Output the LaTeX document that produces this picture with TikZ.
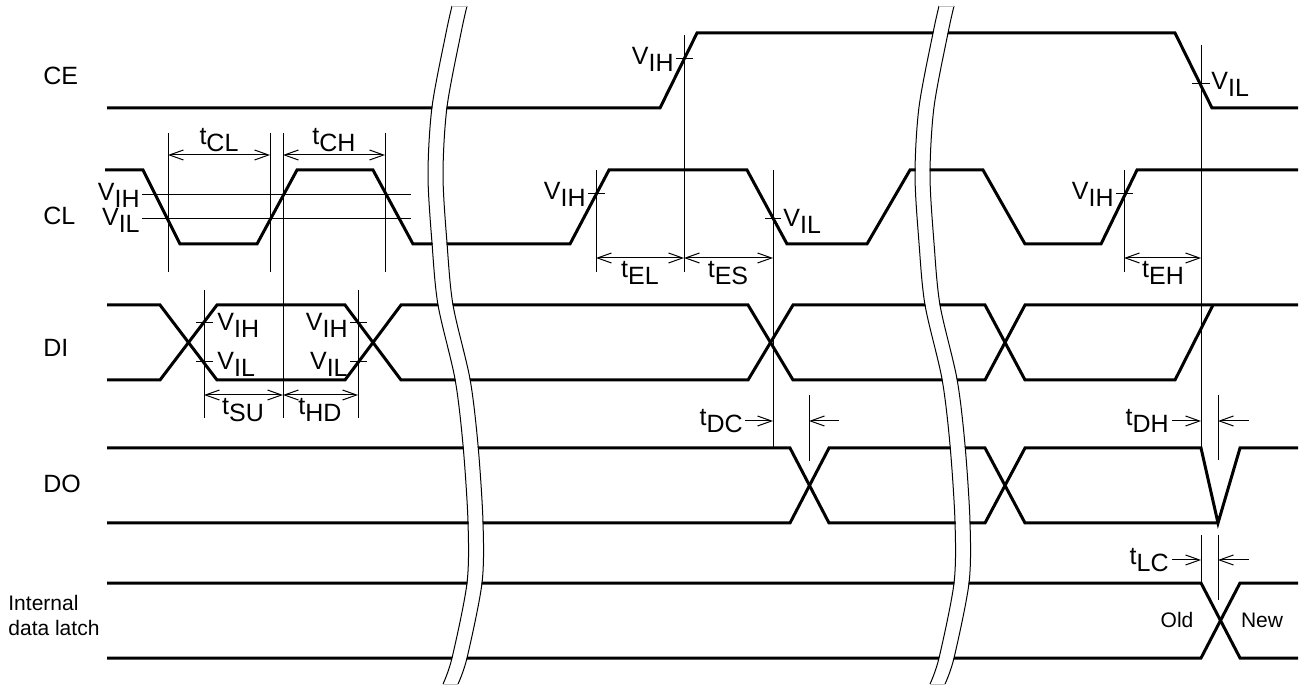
\documentclass[tikz,border=0pt]{standalone}
\usepackage{fontspec}
\setmainfont{Liberation Sans}
\usetikzlibrary{arrows.meta}
\newcommand\tsub[2]{#1\raisebox{-.25em}{#2}}
\tikzset{
wave/.style={line width=1.5pt},
guide/.style={line width=.5pt},
dim/.style={line width=.5pt,{Straight Barb[length=7pt,width=5pt]}-{Straight Barb[length=7pt,width=5pt]}},
ptr/.style={line width=.5pt,-{Straight Barb[length=7pt,width=5pt]}},
signame/.style={font=\fontsize{12.5}{14}\selectfont,anchor=base west,inner sep=0pt},
lev/.style={font=\fontsize{12.5}{14}\selectfont,inner sep=0pt},
note/.style={font=\fontsize{10.5}{12.5}\selectfont,inner sep=0pt},
bandfill/.style={white,line width=7pt},
bandedge/.style={line width=.5pt}
}
\begin{document}
\begin{tikzpicture}[x=.5pt,y=-.5pt]
\useasboundingbox (0,0) rectangle (1310,688);
% signal names
\node[signame] (ce) at (43,85) {CE};
\node[signame] (cl) at (43,225) {CL};
\node[signame] (di) at (43,357) {DI};
\node[signame] (do) at (43,493) {DO};
\node[note,anchor=west,align=left] (latch) at (8,615) {Internal\\data latch};
% waveforms
\draw[wave] (107,108) -- (660,108) -- (697,33) -- (1175,33) -- (1212,108) -- (1298,108);
\draw[wave] (105,170) -- (143,170) -- (180,244) -- (257,244) -- (297,170) -- (373,170) -- (413,244)
  -- (570,244) -- (609,170) -- (747,170) -- (787,244) -- (867,244) -- (910,170) -- (983,170)
  -- (1025,244) -- (1101,244) -- (1137,170) -- (1298,170);
\draw[wave] (107,305) -- (160,305) -- (217,380) -- (345,380) -- (401,305) -- (748,305) -- (793,380)
  -- (985,380) -- (1025,305) -- (1298,305);
\draw[wave] (107,380) -- (160,380) -- (217,305) -- (345,305) -- (401,380) -- (748,380) -- (793,305)
  -- (985,305) -- (1025,380) -- (1175,380) -- (1213,305);
\draw[wave] (107,448) -- (790,448) -- (829,523) -- (985,523) -- (1025,448) -- (1201,448) -- (1218,523)
  -- (1240,448) -- (1298,448);
\draw[wave] (107,523) -- (790,523) -- (829,448) -- (985,448) -- (1025,523) -- (1218,523);
\draw[wave] (107,583) -- (1201,583) -- (1240,658) -- (1298,658);
\draw[wave] (107,658) -- (1201,658) -- (1240,583) -- (1298,583);
% CL levels, tCL / tCH
\draw[guide] (142,195) -- (411,195) (142,219) -- (411,219);
\node[lev,anchor=base east] (vih1) at (140,201) {\tsub{V}{IH}};
\node[lev,anchor=base east] (vil1) at (140,226) {\tsub{V}{IL}};
\draw[guide] (168,133) -- (168,272) (270,133) -- (270,272) (283,133) -- (283,418) (385,133) -- (385,272);
\draw[dim] (168,155) -- (270,155);
\draw[dim] (283,155) -- (385,155);
\node[lev,anchor=base] (tcl) at (219,145) {\tsub{t}{CL}};
\node[lev,anchor=base] (tch) at (334,145) {\tsub{t}{CH}};
% DI setup / hold
\draw[guide] (204,290) -- (204,418) (358,290) -- (358,418);
\draw[guide] (196,323) -- (213,323) (196,362) -- (213,362) (350,323) -- (367,323) (350,362) -- (367,362);
\node[lev,anchor=base west] (vih2) at (217,331) {\tsub{V}{IH}};
\node[lev,anchor=base west] (vil2) at (217,370) {\tsub{V}{IL}};
\node[lev,anchor=base east] (vih3) at (348,331) {\tsub{V}{IH}};
\node[lev,anchor=base east] (vil3) at (348,370) {\tsub{V}{IL}};
\draw[dim] (204,395) -- (283,395);
\draw[dim] (283,395) -- (358,395);
\node[lev,anchor=base] (tsu) at (243,415) {\tsub{t}{SU}};
\node[lev,anchor=base] (thd) at (320,415) {\tsub{t}{HD}};
% CE rise, tEL / tES
\draw[guide] (684,35) -- (684,272) (676,59) -- (693,59);
\node[lev,anchor=base east] (vih4) at (674,65) {\tsub{V}{IH}};
\draw[guide] (596,170) -- (596,272) (588,194) -- (605,194);
\node[lev,anchor=base east] (vih5) at (586,200) {\tsub{V}{IH}};
\draw[guide] (773,170) -- (773,448) (765,219) -- (781,219);
\node[lev,anchor=base west] (vil5) at (783,227) {\tsub{V}{IL}};
\draw[dim] (596,258) -- (684,258);
\draw[dim] (684,258) -- (773,258);
\node[lev,anchor=base] (tel) at (640,278) {\tsub{t}{EL}};
\node[lev,anchor=base] (tes) at (728,278) {\tsub{t}{ES}};
% CE fall, tEH
\draw[guide] (1201,45) -- (1201,448) (1192,84) -- (1210,84);
\node[lev,anchor=base west] (vil6) at (1211,90) {\tsub{V}{IL}};
\draw[guide] (1124,170) -- (1124,272) (1116,194) -- (1133,194);
\node[lev,anchor=base east] (vih6) at (1114,200) {\tsub{V}{IH}};
\draw[dim] (1124,258) -- (1201,258);
\node[lev,anchor=base] (teh) at (1163,278) {\tsub{t}{EH}};
% DO delays
\draw[guide] (809,395) -- (809,461);
\draw[ptr] (745,421) -- (773,421);
\draw[ptr] (839,421) -- (809,421);
\node[lev,anchor=base east] (tdc) at (743,426) {\tsub{t}{DC}};
\draw[guide] (1218,395) -- (1218,460);
\draw[ptr] (1172,421) -- (1201,421);
\draw[ptr] (1249,421) -- (1218,421);
\node[lev,anchor=base east] (tdh) at (1169,426) {\tsub{t}{DH}};
% latch
\draw[guide] (1201,535) -- (1201,583) (1218,535) -- (1218,600);
\draw[ptr] (1172,560) -- (1201,560);
\draw[ptr] (1249,560) -- (1218,560);
\node[lev,anchor=base east] (tlc) at (1169,565) {\tsub{t}{LC}};
\node[note] (old) at (1177,620) {Old};
\node[note] (new) at (1262,620) {New};
% time breaks
\foreach \dx in {0,487} {
  \foreach \o/\s in {7.5/bandfill,0/bandedge,15/bandedge}
    \draw[\s,xshift=(\dx+\o)*.5pt] plot[smooth] coordinates {(452,6) (446,33) (432,107) (428,175)
      (432,243) (438,305) (455,379) (463,445) (468,522) (467,583) (452,658) (443,684)};
  \draw[gray!50,line width=.3pt,xshift=\dx*.5pt] (452,6) -- (467,6) (443,684) -- (458,684);
}
\end{tikzpicture}
\end{document}
